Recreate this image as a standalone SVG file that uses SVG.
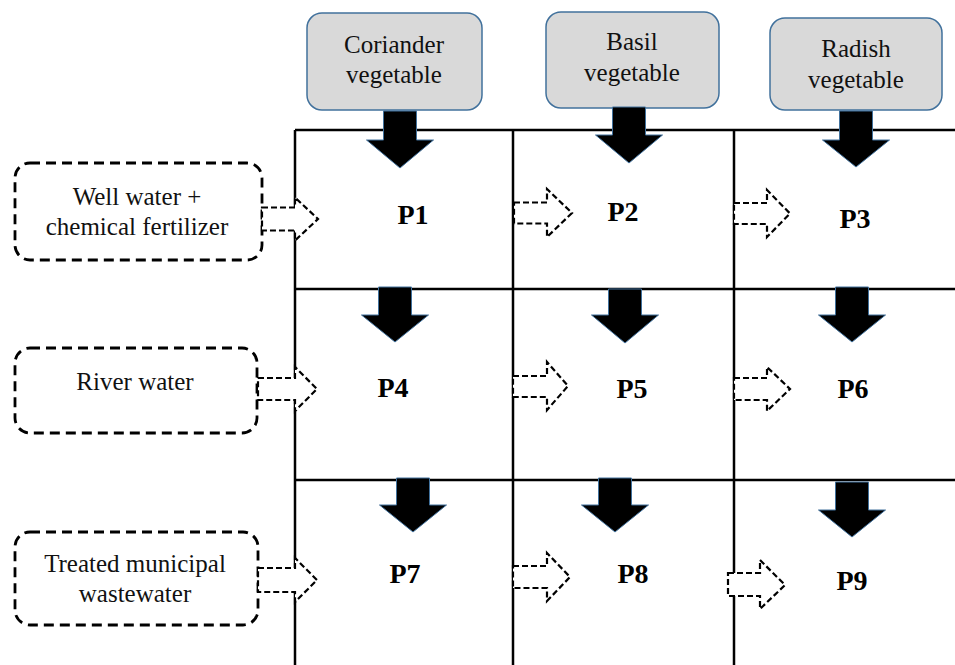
<svg xmlns="http://www.w3.org/2000/svg" width="955" height="665" viewBox="0 0 955 665">
<style>
.grid{stroke:#000;stroke-width:2.5;fill:none}
.veg{fill:#d9d9d9;stroke:#41719c;stroke-width:1.5}
.src{fill:#fff;stroke:#000;stroke-width:2.8;stroke-dasharray:10 6}
.barr{fill:#000;stroke:#41719c;stroke-width:1}
.darr{fill:#fff;stroke:#000;stroke-width:2.2;stroke-dasharray:6 3}
.t{font-size:25px;fill:#111;text-anchor:middle}
.p{font-size:28px;font-weight:bold;fill:#000;text-anchor:middle}
</style>
<rect width="955" height="665" fill="#fff"/>
<g id="grid" class="grid">
<path d="M295,130 H955 M295,289 H955 M295,480 H955 M295,130 V665 M513,130 V665 M734,130 V665"/>
</g>
<g font-family="Liberation Serif, Times New Roman, serif">
<g id="veg-coriander"><rect class="veg" x="307" y="13" width="175" height="97" rx="15"/><text class="t" x="394" y="53">Coriander</text><text class="t" x="394" y="83">vegetable</text></g>
<g id="veg-basil"><rect class="veg" x="546" y="12" width="173" height="96" rx="15"/><text class="t" x="632" y="50">Basil</text><text class="t" x="632" y="81">vegetable</text></g>
<g id="veg-radish"><rect class="veg" x="770" y="18" width="172" height="92" rx="15"/><text class="t" x="856" y="57">Radish</text><text class="t" x="856" y="88">vegetable</text></g>
<g id="src-well"><rect class="src" x="15" y="163" width="247" height="97" rx="15"/><text class="t" x="137" y="205">Well water +</text><text class="t" x="137" y="235">chemical fertilizer</text></g>
<g id="src-river"><rect class="src" x="15" y="348" width="242" height="85" rx="15"/><text class="t" x="135" y="390">River water</text></g>
<g id="src-treated"><rect class="src" x="15" y="532" width="243" height="93" rx="15"/><text class="t" x="135" y="572">Treated municipal</text><text class="t" x="135" y="602">wastewater</text></g>
</g>
<g id="connectors">
<path class="barr" d="M383.5,111 H416.5 V140 H433.5 L400,168 L366.5,140 H383.5 Z"/>
<path class="barr" d="M612.5,107 H645.5 V135 H662.5 L629,163 L595.5,135 H612.5 Z"/>
<path class="barr" d="M839.5,111 H872.5 V140 H889.5 L856,167 L822.5,140 H839.5 Z"/>
<path class="barr" d="M378.5,287 H411.5 V315 H428.5 L395,342 L361.5,315 H378.5 Z"/>
<path class="barr" d="M608.5,289 H641.5 V315 H658.5 L625,343 L591.5,315 H608.5 Z"/>
<path class="barr" d="M835.5,287 H868.5 V315 H885.5 L852,342 L818.5,315 H835.5 Z"/>
<path class="barr" d="M396.5,478 H429.5 V505 H446.5 L413,532 L379.5,505 H396.5 Z"/>
<path class="barr" d="M598.5,478 H631.5 V505 H648.5 L615,532 L581.5,505 H598.5 Z"/>
<path class="barr" d="M835.5,482 H868.5 V510 H885.5 L852,537 L818.5,510 H835.5 Z"/>
<path class="darr" d="M262,207.5 H295 V197.5 L318,219 L295,240.5 V230.5 H262 Z"/>
<path class="darr" d="M514,202.5 H547 V189 L572,213 L547,237 V223.5 H514 Z"/>
<path class="darr" d="M734,203 H767 V190 L790,213.5 L767,237 V224 H734 Z"/>
<path class="darr" d="M258,378 H295 V367 L317,389 L295,411 V400 H258 Z"/>
<path class="darr" d="M513,376 H547 V362 L568,386 L547,410 V397 H513 Z"/>
<path class="darr" d="M734,378 H767 V367 L790,389 L767,411 V400 H734 Z"/>
<path class="darr" d="M258,568 H295 V558 L317,580 L295,602 V592 H258 Z"/>
<path class="darr" d="M513,566 H547 V553 L570,577 L547,601 V588 H513 Z"/>
<path class="darr" d="M728,573 H760 V560 L785,585 L760,609 V596 H728 Z"/>
</g>
<g font-family="Liberation Serif, Times New Roman, serif">
<g id="p1"><text class="p" x="413" y="224">P1</text></g>
<g id="p2"><text class="p" x="623" y="221">P2</text></g>
<g id="p3"><text class="p" x="855" y="228">P3</text></g>
<g id="p4"><text class="p" x="393" y="397">P4</text></g>
<g id="p5"><text class="p" x="632" y="398">P5</text></g>
<g id="p6"><text class="p" x="853" y="398">P6</text></g>
<g id="p7"><text class="p" x="405" y="583">P7</text></g>
<g id="p8"><text class="p" x="633" y="583">P8</text></g>
<g id="p9"><text class="p" x="852" y="590">P9</text></g>
</g>
</svg>
